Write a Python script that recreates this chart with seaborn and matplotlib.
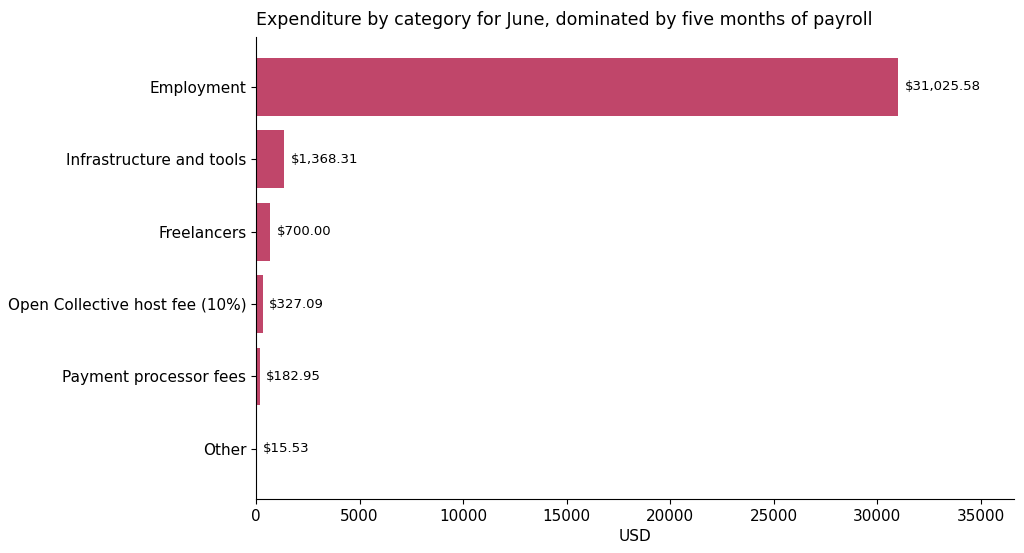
import matplotlib
matplotlib.use("Agg")
import matplotlib.pyplot as plt
import seaborn as sns
import pandas as pd

categories = ["Employment", "Infrastructure and tools", "Freelancers",
              "Open Collective host fee (10%)", "Payment processor fees", "Other"]
amounts = [31025.58, 1368.31, 700.00, 327.09, 182.95, 15.53]

df = pd.DataFrame({"category": categories, "usd": amounts})

plt.rcParams['font.family'] = ['DejaVu Sans']
plt.rcParams['text.color'] = 'black'
plt.rcParams['axes.labelcolor'] = 'black'
plt.rcParams['xtick.color'] = 'black'
plt.rcParams['ytick.color'] = 'black'

fig = plt.figure(figsize=(10.24, 5.53), dpi=100)
ax = fig.add_axes([0.25, 0.098, 0.74, 0.835])
sns.barplot(data=df, x="usd", y="category", orient="h", color="#c0466a",
            saturation=1, width=0.8, ax=ax)

for i, v in enumerate(amounts):
    ax.text(v + 300, i, f"${v:,.2f}", va="center", ha="left", fontsize=9.5,
            color="black")

ax.set_xlim(0, 36600)
ax.set_ylim(5.69, -0.69)
ax.set_xlabel("USD", fontsize=11)
ax.set_ylabel("")
ax.tick_params(axis="both", labelsize=11)
ax.set_title("Expenditure by category for June, dominated by five months of payroll",
             loc="left", fontsize=12.5, pad=9)
for s in ("top", "right"):
    ax.spines[s].set_visible(False)
for s in ("left", "bottom"):
    ax.spines[s].set_color("black")
fig.savefig("out.png", dpi=100)
